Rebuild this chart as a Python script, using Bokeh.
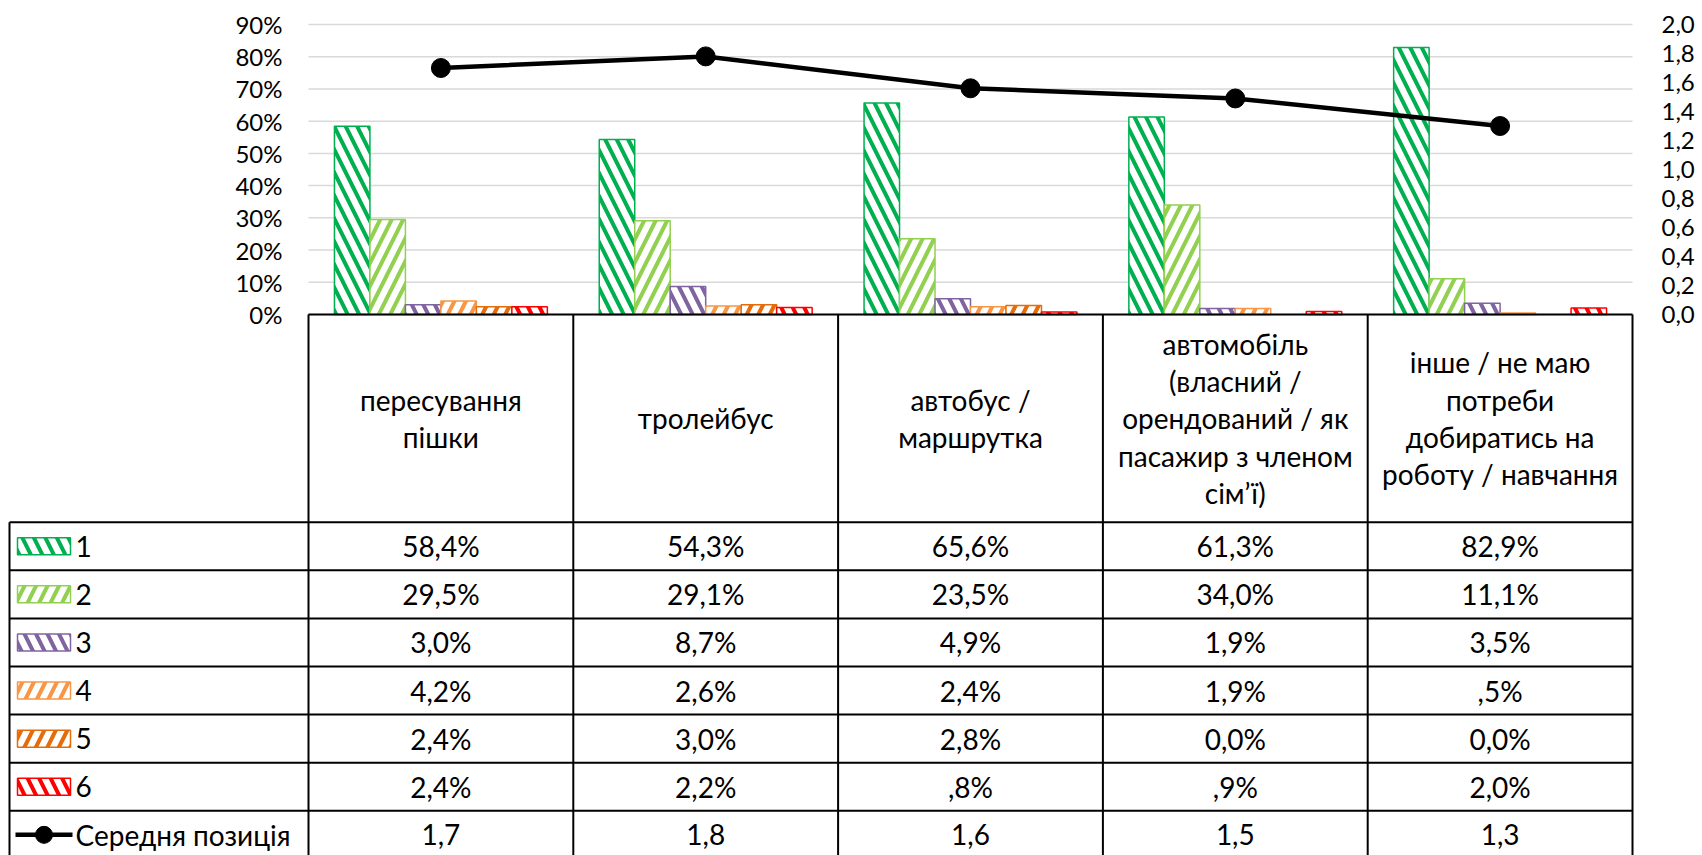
from bokeh.plotting import figure
from bokeh.models import ColumnDataSource, Range1d, CDSView, BooleanFilter
from bokeh.core.properties import value
from bokeh.embed import file_html
from bokeh.resources import INLINE

# ---------------- data ----------------
categories = ["пересування пішки", "тролейбус", "автобус / маршрутка",
              "автомобіль (власний / орендований / як пасажир з членом сім’ї)",
              "інше / не маю потреби добиратись на роботу / навчання"]
header_lines = [["пересування", "пішки"],
                ["тролейбус"],
                ["автобус /", "маршрутка"],
                ["автомобіль", "(власний /", "орендований / як", "пасажир з членом", "сім’ї)"],
                ["інше / не маю", "потреби", "добиратись на", "роботу / навчання"]]
series_names = ["1", "2", "3", "4", "5", "6"]
rank1 = [58.4, 54.3, 65.6, 61.3, 82.9]
rank2 = [29.5, 29.1, 23.5, 34.0, 11.1]
rank3 = [3.0, 8.7, 4.9, 1.9, 3.5]
rank4 = [4.2, 2.6, 2.4, 1.9, 0.5]
rank5 = [2.4, 3.0, 2.8, 0.0, 0.0]
rank6 = [2.4, 2.2, 0.8, 0.9, 2.0]
series_values = [rank1, rank2, rank3, rank4, rank5, rank6]
line_name = "Середня позиція"
mean_position = [1.70, 1.78, 1.56, 1.49, 1.30]
pct_ticks = [0, 10, 20, 30, 40, 50, 60, 70, 80, 90]
pos_ticks = [0.0, 0.2, 0.4, 0.6, 0.8, 1.0, 1.2, 1.4, 1.6, 1.8, 2.0]

colors = ["#00B050", "#92D050", "#8064A2", "#F79646", "#E46C0A", "#FF0000"]
hatches = ["left_diagonal_line", "right_diagonal_line", "left_diagonal_line",
           "right_diagonal_line", "right_diagonal_line", "left_diagonal_line"]

FONT = "Lato"
TXT = "#000000"
HATCH_SCALE = 23
HATCH_WEIGHT = 4


def pct_label(v):
    if v == 0:
        return "0,0%"
    if v < 1:
        return ",%d%%" % int(round(v * 10))
    return ("%.1f" % v).replace(".", ",") + "%"


def pos_label(v):
    return ("%.1f" % v).replace(".", ",")


def pct_tick_label(t):
    return "%d%%" % t


# ---------------- layout constants (pixels) ----------------
W, H = 1702, 855
frame_l, frame_r, frame_t, frame_b = 308.0, 1632.0, 24.0, 314.0
ncat = len(categories)
cat_px = (frame_r - frame_l) / ncat
pct_px = (frame_b - frame_t) / (pct_ticks[-1] - pct_ticks[0])
pos_px = (frame_b - frame_t) / (pos_ticks[-1] - pos_ticks[0])

p = figure(width=W, height=H, x_range=Range1d(0, W), y_range=Range1d(H, 0),
           output_backend="svg", toolbar_location=None,
           min_border_left=0, min_border_right=0, min_border_top=0, min_border_bottom=0,
           x_axis_location=None, y_axis_location=None, outline_line_color=None)
for g in p.grid:
    g.visible = False

p.extra_x_ranges = {"cat": Range1d(-frame_l / cat_px, ncat + (W - frame_r) / cat_px)}
p.extra_y_ranges = {
    "pct": Range1d(pct_ticks[0] - (H - frame_b) / pct_px, pct_ticks[-1] + frame_t / pct_px),
    "pos": Range1d(pos_ticks[0] - (H - frame_b) / pos_px, pos_ticks[-1] + frame_t / pos_px),
}

# gridlines
p.segment(x0=[0] * len(pct_ticks), x1=[ncat] * len(pct_ticks), y0=pct_ticks, y1=pct_ticks,
          x_range_name="cat", y_range_name="pct", line_color="#D9D9D9", line_width=1.5)

# tick labels
p.text(x=[0] * len(pct_ticks), y=pct_ticks, text=[pct_tick_label(t) for t in pct_ticks],
       x_range_name="cat", y_range_name="pct", x_offset=-26, text_align="right",
       text_baseline="middle", text_font=value(FONT), text_font_size="24px", text_color=TXT)
p.text(x=[ncat] * len(pos_ticks), y=pos_ticks, text=[pos_label(t) for t in pos_ticks],
       x_range_name="cat", y_range_name="pos", x_offset=29, text_align="left",
       text_baseline="middle", text_font=value(FONT), text_font_size="24px", text_color=TXT)

# bars
cat_x = [i + 0.5 for i in range(ncat)]
bar_w = 0.134
for k, vals in enumerate(series_values):
    src = ColumnDataSource(dict(x=[c + (k - 2.5) * bar_w for c in cat_x], v=vals))
    view = CDSView(filter=BooleanFilter([v > 0 for v in vals]))
    p.vbar(x="x", top="v", bottom=0, width=bar_w, source=src, view=view,
           x_range_name="cat", y_range_name="pct",
           fill_color="white", line_color=colors[k], line_width=1.5,
           hatch_pattern=hatches[k], hatch_color=colors[k],
           hatch_scale=HATCH_SCALE, hatch_weight=HATCH_WEIGHT)

# mean position line
lsrc = ColumnDataSource(dict(x=cat_x, m=mean_position))
p.line(x="x", y="m", source=lsrc, x_range_name="cat", y_range_name="pos",
       line_color="black", line_width=4.5)
p.scatter(x="x", y="m", source=lsrc, x_range_name="cat", y_range_name="pos",
          marker="circle", size=19, fill_color="black", line_color="black")

# ---------------- data table (pixel layout) ----------------
col_edges = [frame_l + i * cat_px for i in range(ncat + 1)]
leg_left = 9.0
row_top = 521.7
row_h = 48.1
nrows = len(series_names) + 1
head_mid = (frame_b + row_top) / 2.0
head_lh = 37.3

x0s, y0s, x1s, y1s = [], [], [], []
x0s.append(col_edges[0]); y0s.append(frame_b); x1s.append(col_edges[-1]); y1s.append(frame_b)
for r in range(nrows):
    y = row_top + r * row_h
    x0s.append(leg_left); y0s.append(y); x1s.append(col_edges[-1]); y1s.append(y)
for xe in col_edges:
    x0s.append(xe); y0s.append(frame_b); x1s.append(xe); y1s.append(H)
x0s.append(leg_left); y0s.append(row_top); x1s.append(leg_left); y1s.append(H)
p.segment(x0=x0s, y0=y0s, x1=x1s, y1=y1s, line_color="black", line_width=2)

hx, hy, ht = [], [], []
for j, lines in enumerate(header_lines):
    cx = (col_edges[j] + col_edges[j + 1]) / 2
    n = len(lines)
    for i, t in enumerate(lines):
        hx.append(cx); hy.append(head_mid + (i - (n - 1) / 2) * head_lh); ht.append(t)
p.text(x=hx, y=hy, text=ht, text_font=value(FONT), text_font_size="28px",
       text_align="center", text_baseline="middle", text_color=TXT)

dx, dy, dt = [], [], []
for r, vals in enumerate(series_values + [mean_position]):
    cy = row_top + (r + 0.5) * row_h
    for j, v in enumerate(vals):
        dx.append((col_edges[j] + col_edges[j + 1]) / 2)
        dy.append(cy)
        dt.append(pos_label(v) if r == len(series_values) else pct_label(v))
p.text(x=dx, y=dy, text=dt, text_font=value(FONT), text_font_size="28px",
       text_align="center", text_baseline="middle", text_color=TXT)

for k, name in enumerate(series_names):
    cy = row_top + (k + 0.5) * row_h
    p.quad(left=[17], right=[70], top=[cy - 8.5], bottom=[cy + 8.5], fill_color="white",
           line_color=colors[k], line_width=1.5, hatch_pattern=hatches[k],
           hatch_color=colors[k], hatch_scale=HATCH_SCALE, hatch_weight=HATCH_WEIGHT)
lab_y = [row_top + (k + 0.5) * row_h for k in range(nrows)]
p.text(x=[75] * nrows, y=lab_y, text=series_names + [line_name], text_font=value(FONT),
       text_font_size="28px", text_align="left", text_baseline="middle", text_color=TXT)
ly = row_top + (nrows - 0.5) * row_h
p.segment(x0=[15], y0=[ly], x1=[72], y1=[ly], line_color="black", line_width=4.5)
p.scatter(x=[43.5], y=[ly], marker="circle", size=17, fill_color="black", line_color="black")

open("out.html", "w").write(file_html(p, INLINE))
